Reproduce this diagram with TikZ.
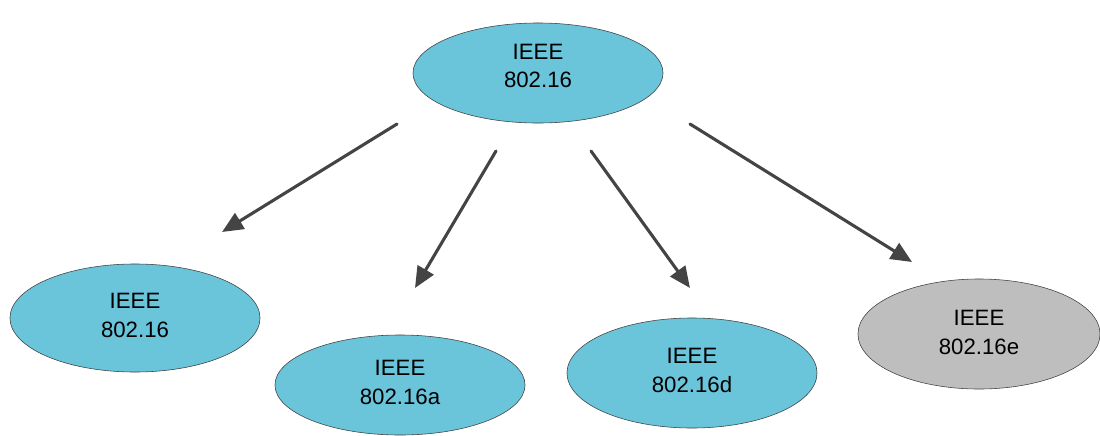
\documentclass[tikz,border=0pt]{standalone}
\usepackage{fontspec}
\setmainfont{Liberation Sans}
\usetikzlibrary{shapes.geometric,arrows.meta}
\definecolor{wimaxblue}{RGB}{106,196,218}
\definecolor{wimaxgray}{RGB}{190,190,190}
\definecolor{arrowgray}{RGB}{68,68,68}
% two-line label, lifted by #1 without changing the node size
\newcommand{\stdlabel}[3]{\raisebox{#1}[\height][\depth]{\begin{tabular}{@{}c@{}}#2\\#3\end{tabular}}}
\begin{document}
\begin{tikzpicture}[x=0.025cm,y=-0.025cm,
  stdnode/.style={draw=black!75, ellipse, fill=wimaxblue, inner sep=0pt,
    font=\fontsize{15.8}{20.5}\selectfont, minimum width=6.25cm, minimum height=2.5cm},
  link/.style={draw=arrowgray, line width=2.2pt, line cap=round,
    -{Triangle[length=15pt,width=13pt]}}]
\useasboundingbox (0,0) rectangle (1100,435);
\node[stdnode] (root) at (538,73) {\stdlabel{3.8pt}{IEEE}{802.16}};
\node[stdnode, minimum height=2.7cm] (base) at (135,318) {\stdlabel{0.6pt}{IEEE}{802.16}};
\node[stdnode] (a) at (400,385) {\stdlabel{0.6pt}{IEEE}{802.16a}};
\node[stdnode, minimum height=2.75cm] (d) at (692,373) {\stdlabel{0.6pt}{IEEE}{802.16d}};
\node[stdnode, fill=wimaxgray, minimum width=6.05cm, minimum height=2.75cm] (e) at (979,334) {\stdlabel{-0.3pt}{IEEE}{802.16e}};
% arrow ends
\coordinate (r1) at (397,124);
\coordinate (r2) at (496,151);
\coordinate (r3) at (591,151);
\coordinate (r4) at (690,124);
\coordinate (t1) at (222,232);
\coordinate (t2) at (415,288);
\coordinate (t3) at (690,288);
\coordinate (t4) at (912,262);
\path[link] (r1) -- (t1);
\path[link] (r2) -- (t2);
\path[link] (r3) -- (t3);
\path[link] (r4) -- (t4);
\end{tikzpicture}
\end{document}
